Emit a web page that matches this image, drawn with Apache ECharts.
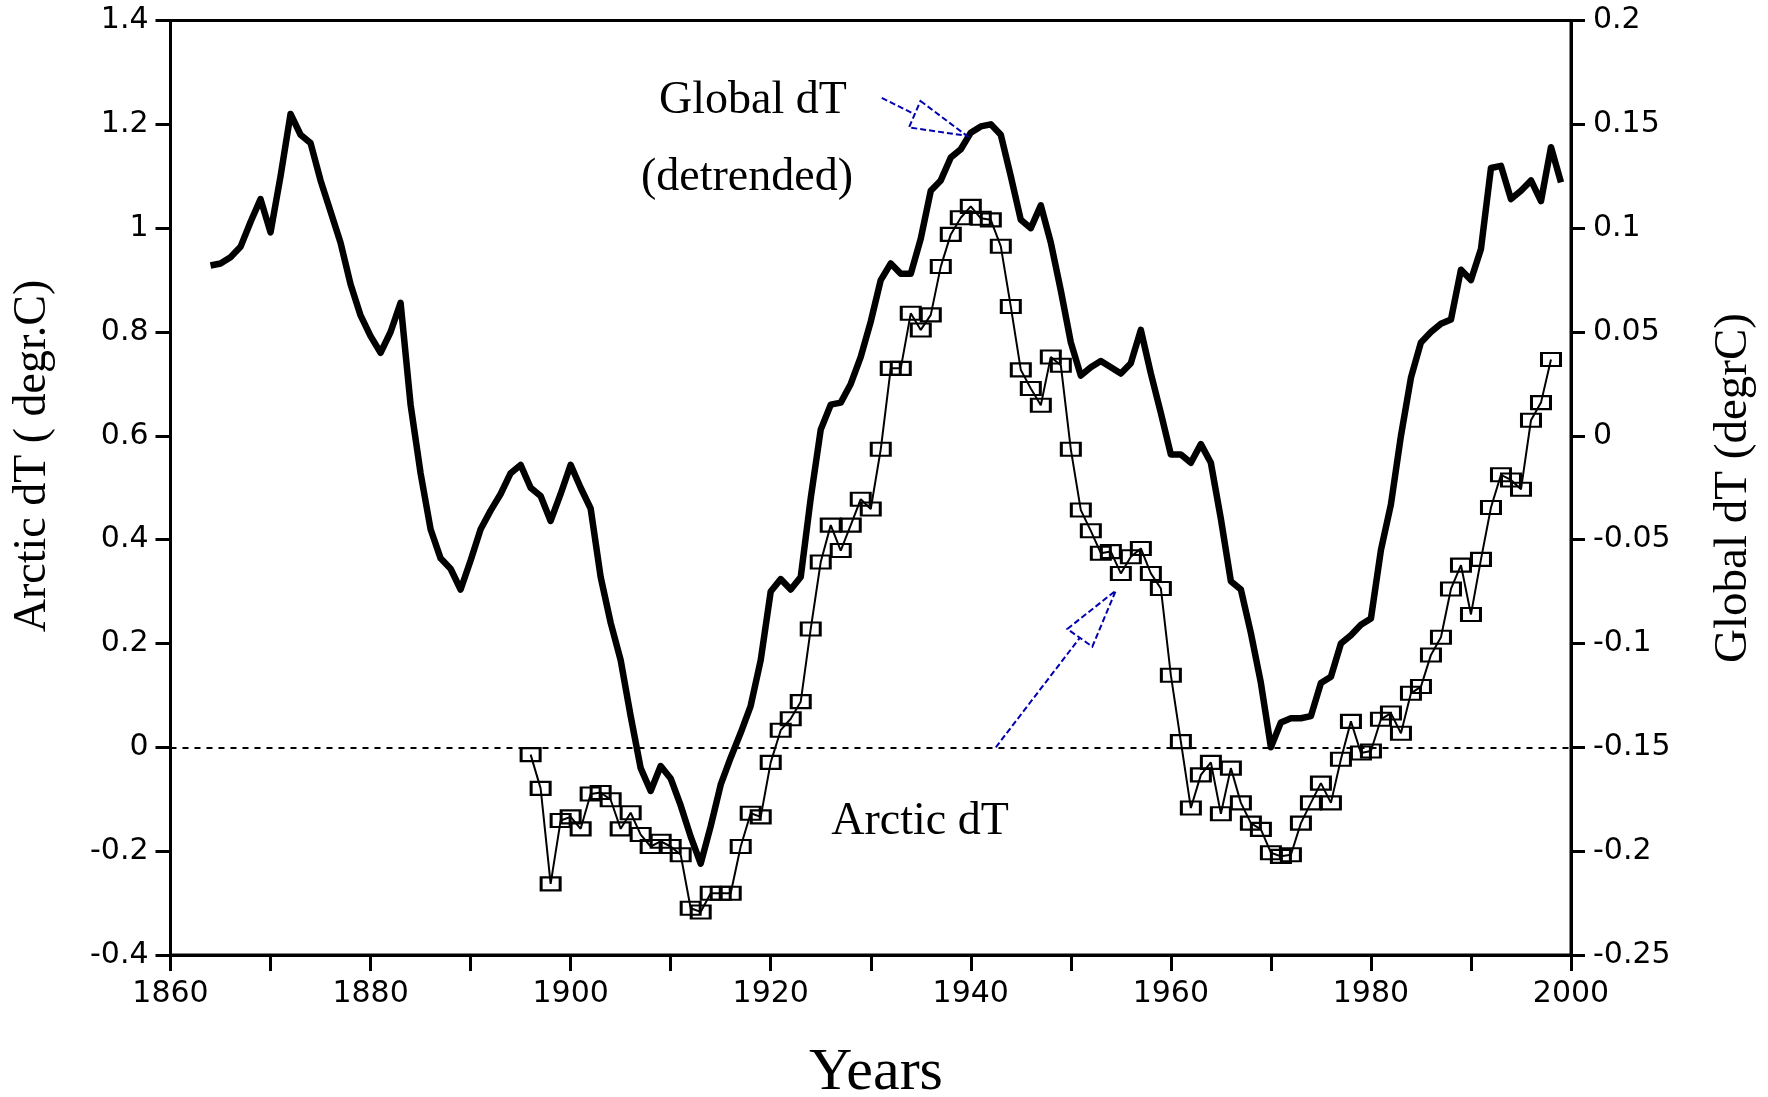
<!DOCTYPE html>
<html>
<head>
<meta charset="utf-8">
<title>Arctic dT and Global dT</title>
<script src="https://cdn.jsdelivr.net/npm/echarts@6/dist/echarts.min.js"></script>
<style>
  html, body { margin: 0; padding: 0; background: #ffffff; }
  #chart { width: 1768px; height: 1097px; }
</style>
</head>
<body>
<div id="chart"></div>
<script>
// Global dT (detrended), degrC, plotted against the right-hand axis
const globalYears = [
  1864, 1865, 1866, 1867, 1868, 1869, 1870, 1871, 1872, 1873, 1874, 1875, 1876, 1877, 1878, 1879,
  1880, 1881, 1882, 1883, 1884, 1885, 1886, 1887, 1888, 1889, 1890, 1891, 1892, 1893, 1894, 1895,
  1896, 1897, 1898, 1899, 1900, 1901, 1902, 1903, 1904, 1905, 1906, 1907, 1908, 1909, 1910, 1911,
  1912, 1913, 1914, 1915, 1916, 1917, 1918, 1919, 1920, 1921, 1922, 1923, 1924, 1925, 1926, 1927,
  1928, 1929, 1930, 1931, 1932, 1933, 1934, 1935, 1936, 1937, 1938, 1939, 1940, 1941, 1942, 1943,
  1944, 1945, 1946, 1947, 1948, 1949, 1950, 1951, 1952, 1953, 1954, 1955, 1956, 1957, 1958, 1959,
  1960, 1961, 1962, 1963, 1964, 1965, 1966, 1967, 1968, 1969, 1970, 1971, 1972, 1973, 1974, 1975,
  1976, 1977, 1978, 1979, 1980, 1981, 1982, 1983, 1984, 1985, 1986, 1987, 1988, 1989, 1990, 1991,
  1992, 1993, 1994, 1995, 1996, 1997, 1998, 1999
];
const globalDT = [
  0.082, 0.083, 0.086, 0.091, 0.103, 0.114, 0.098, 0.125, 0.155, 0.145, 0.141, 0.123, 0.108, 0.093, 0.073, 0.058,
  0.048, 0.040, 0.050, 0.064, 0.015, -0.018, -0.045, -0.059, -0.064, -0.074, -0.060, -0.045, -0.036, -0.028, -0.018, -0.014,
  -0.025, -0.029, -0.041, -0.028, -0.014, -0.025, -0.035, -0.068, -0.090, -0.108, -0.135, -0.160, -0.171, -0.159, -0.165, -0.178,
  -0.193, -0.206, -0.188, -0.168, -0.155, -0.143, -0.130, -0.108, -0.075, -0.069, -0.074, -0.068, -0.030, 0.003, 0.015, 0.016,
  0.025, 0.038, 0.055, 0.075, 0.083, 0.078, 0.078, 0.095, 0.118, 0.123, 0.134, 0.138, 0.146, 0.149, 0.150, 0.145,
  0.125, 0.104, 0.100, 0.111, 0.093, 0.070, 0.045, 0.029, 0.033, 0.036, 0.033, 0.030, 0.035, 0.051, 0.030, 0.011,
  -0.009, -0.009, -0.013, -0.004, -0.013, -0.040, -0.070, -0.074, -0.095, -0.119, -0.150, -0.138, -0.136, -0.136, -0.135, -0.119,
  -0.116, -0.100, -0.096, -0.091, -0.088, -0.055, -0.033, 0.000, 0.028, 0.045, 0.050, 0.054, 0.056, 0.080, 0.075, 0.090,
  0.129, 0.130, 0.114, 0.118, 0.123, 0.113, 0.139, 0.122
];

// Arctic dT, degr.C, plotted against the left-hand axis
const arcticYears = [
  1896, 1897, 1898, 1899, 1900, 1901, 1902, 1903, 1904, 1905, 1906, 1907, 1908, 1909, 1910, 1911,
  1912, 1913, 1914, 1915, 1916, 1917, 1918, 1919, 1920, 1921, 1922, 1923, 1924, 1925, 1926, 1927,
  1928, 1929, 1930, 1931, 1932, 1933, 1934, 1935, 1936, 1937, 1938, 1939, 1940, 1941, 1942, 1943,
  1944, 1945, 1946, 1947, 1948, 1949, 1950, 1951, 1952, 1953, 1954, 1955, 1956, 1957, 1958, 1959,
  1960, 1961, 1962, 1963, 1964, 1965, 1966, 1967, 1968, 1969, 1970, 1971, 1972, 1973, 1974, 1975,
  1976, 1977, 1978, 1979, 1980, 1981, 1982, 1983, 1984, 1985, 1986, 1987, 1988, 1989, 1990, 1991,
  1992, 1993, 1994, 1995, 1996, 1997, 1998
];
const arcticDT = [
  -0.014, -0.079, -0.263, -0.141, -0.134, -0.157, -0.090, -0.087, -0.101, -0.157, -0.126, -0.168, -0.191, -0.181, -0.191, -0.207,
  -0.310, -0.317, -0.281, -0.281, -0.281, -0.191, -0.127, -0.134, -0.029, 0.033, 0.055, 0.088, 0.228, 0.357, 0.428, 0.379,
  0.428, 0.478, 0.459, 0.574, 0.730, 0.730, 0.836, 0.804, 0.833, 0.926, 0.988, 1.020, 1.042, 1.019, 1.016, 0.965,
  0.849, 0.727, 0.691, 0.659, 0.752, 0.736, 0.574, 0.457, 0.417, 0.374, 0.377, 0.335, 0.367, 0.383, 0.335, 0.306,
  0.139, 0.011, -0.117, -0.053, -0.029, -0.128, -0.040, -0.107, -0.146, -0.158, -0.203, -0.210, -0.207, -0.146, -0.107, -0.069,
  -0.107, -0.023, 0.050, -0.011, -0.007, 0.054, 0.066, 0.027, 0.104, 0.117, 0.178, 0.212, 0.305, 0.351, 0.256, 0.362,
  0.462, 0.525, 0.515, 0.497, 0.630, 0.664, 0.747
];

// Axis ranges and tick steps
const yearRange = [1860, 2000];
const yearStep = 10;
const yearLabelStep = 20;
const arcticRange = [-0.4, 1.4];
const arcticStep = 0.2;
const globalRange = [-0.25, 0.2];
const globalStep = 0.05;

// Callout arrows, in (year, Arctic dT) units: tail, the two corners of the head, tip
const globalArrow = { tail: [1931.1, 1.251], corners: [[1934.97, 1.245], [1933.82, 1.194]], tip: [1939.6, 1.178] };
const arcticArrow = { tail: [1942.5, 0.0], corners: [[1949.65, 0.228], [1952.15, 0.194]], tip: [1954.5, 0.302] };

const SANS = '"DejaVu Sans", "Liberation Sans", sans-serif';
const SERIF = '"Liberation Serif", "DejaVu Serif", serif';

const pair = (xs, ys) => xs.map((x, i) => [x, ys[i]]);

const chart = echarts.init(document.getElementById('chart'), null, { renderer: 'canvas' });

const axisLabelStyle = { color: '#000', fontFamily: SANS, fontSize: 30 };

const option = {
  animation: false,
  backgroundColor: '#ffffff',
  grid: {
    left: 170.5, right: 197, top: 20.5, bottom: 142,
    show: true, borderColor: '#000', borderWidth: 3,
    containLabel: false, outerBoundsMode: 'none'
  },
  xAxis: {
    type: 'value',
    min: yearRange[0], max: yearRange[1], interval: yearStep,
    axisLine: { show: true, onZero: false, lineStyle: { color: '#000', width: 3 } },
    axisTick: { show: true, inside: false, length: 16, lineStyle: { color: '#000', width: 3 } },
    axisLabel: Object.assign({
      margin: 24,
      formatter: v => (v % yearLabelStep === 0 ? String(v) : '')
    }, axisLabelStyle),
    splitLine: { show: false }
  },
  yAxis: [
    {
      type: 'value', position: 'left',
      min: arcticRange[0], max: arcticRange[1], interval: arcticStep,
      axisLine: { show: true, onZero: false, lineStyle: { color: '#000', width: 3 } },
      axisTick: { show: true, inside: false, length: 15, lineStyle: { color: '#000', width: 3 } },
      axisLabel: Object.assign({ margin: 22 }, axisLabelStyle),
      splitLine: { show: false }
    },
    {
      type: 'value', position: 'right',
      min: globalRange[0], max: globalRange[1], interval: globalStep,
      axisLine: { show: true, onZero: false, lineStyle: { color: '#000', width: 3 } },
      axisTick: { show: true, inside: false, length: 14, lineStyle: { color: '#000', width: 3 } },
      axisLabel: Object.assign({ margin: 22 }, axisLabelStyle),
      splitLine: { show: false }
    }
  ],
  series: [
    {
      name: 'Global dT',
      type: 'line',
      yAxisIndex: 1,
      data: pair(globalYears, globalDT),
      symbol: 'none',
      lineStyle: { color: '#000', width: 6.5, join: 'round' },
      z: 2
    },
    {
      name: 'Arctic dT',
      type: 'line',
      yAxisIndex: 0,
      data: pair(arcticYears, arcticDT),
      symbol: 'rect',
      symbolSize: [19, 13],
      showAllSymbol: true,
      lineStyle: { color: '#000', width: 2 },
      itemStyle: { color: 'rgba(255,255,255,0)', borderColor: '#000', borderWidth: 2.5 },
      markLine: {
        silent: true,
        symbol: ['none', 'none'],
        label: { show: false },
        lineStyle: { color: '#000', width: 2, type: [6, 6] },
        data: [{ yAxis: 0 }]
      },
      z: 3
    }
  ]
};

chart.setOption(option);

// Callout arrows and text, placed through the chart's own coordinate system
const px = p => chart.convertToPixel({ xAxisIndex: 0, yAxisIndex: 0 }, p);
const ARROW_BLUE = '#0000b0';

function arrowElements(a) {
  const c0 = px(a.corners[0]);
  const c1 = px(a.corners[1]);
  const tip = px(a.tip);
  const tail = px(a.tail);
  const mid = [(c0[0] + c1[0]) / 2, (c0[1] + c1[1]) / 2];
  const stroke = { fill: 'none', stroke: ARROW_BLUE, lineWidth: 2, lineDash: [6, 3] };
  return [
    { type: 'polyline', silent: true, z: 10, shape: { points: [tail, mid] }, style: Object.assign({}, stroke) },
    { type: 'polygon', silent: true, z: 10, shape: { points: [c0, tip, c1] }, style: Object.assign({}, stroke) }
  ];
}

function label(text, x, y, size, rotation) {
  return {
    type: 'text', silent: true, z: 10,
    x: x, y: y, rotation: rotation || 0,
    style: {
      text: text, x: 0, y: 0,
      font: size + 'px ' + SERIF,
      fill: '#000',
      align: 'center', textAlign: 'center',
      verticalAlign: 'middle', textVerticalAlign: 'middle'
    }
  };
}

chart.setOption({
  graphic: [].concat(
    arrowElements(globalArrow),
    arrowElements(arcticArrow),
    [
      label('Global dT', 753, 101, 46),
      label('(detrended)', 747, 178, 46),
      label('Arctic dT', 920, 822, 46),
      label('Years', 876, 1073, 60),
      label('Arctic dT ( degr.C)', 33, 456, 46, Math.PI / 2),
      label('Global dT (degrC)', 1734, 488, 47, Math.PI / 2)
    ]
  )
});
</script>
</body>
</html>
